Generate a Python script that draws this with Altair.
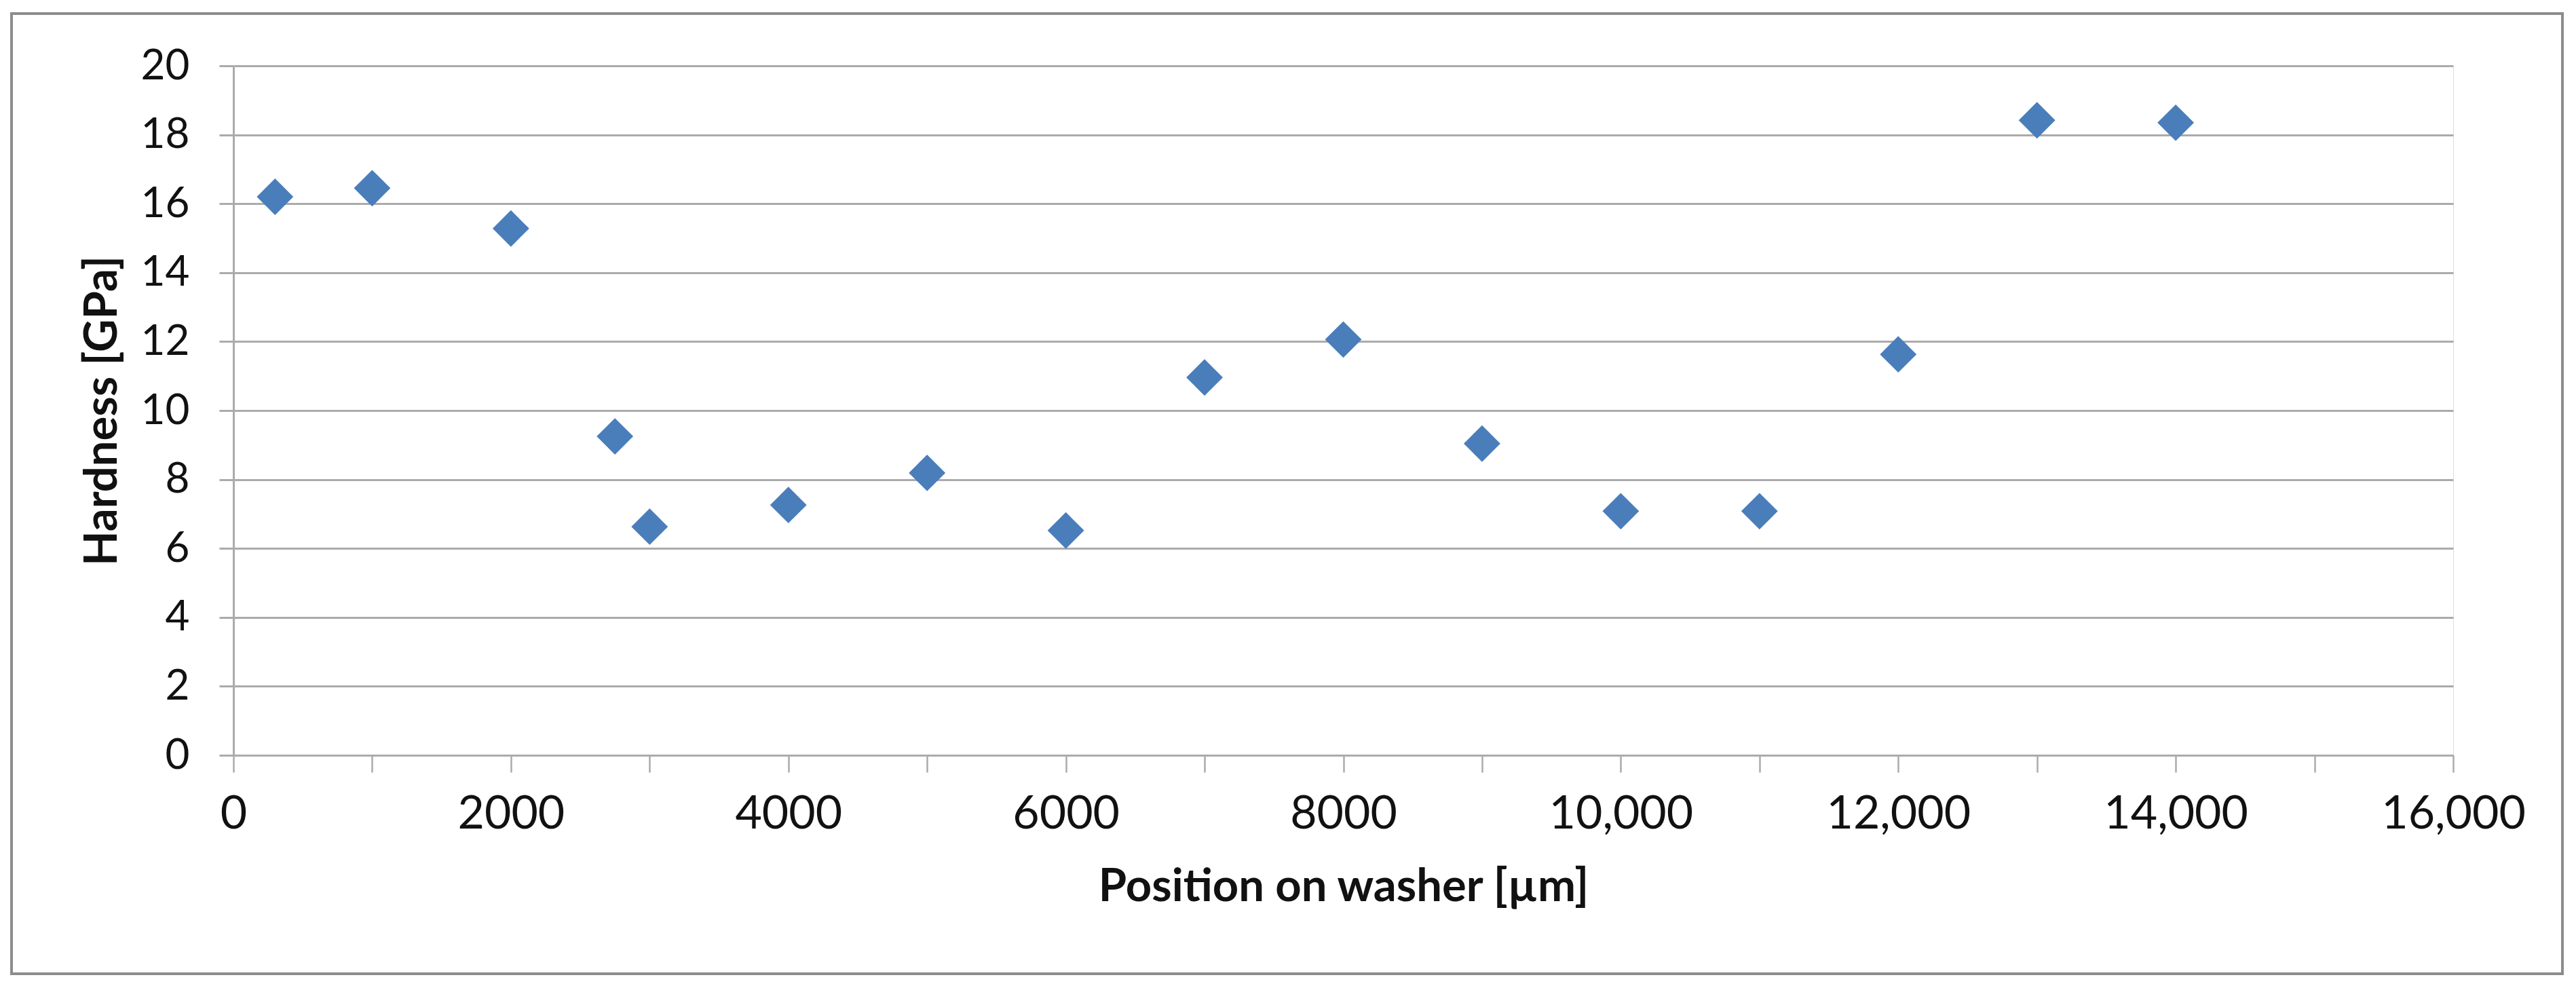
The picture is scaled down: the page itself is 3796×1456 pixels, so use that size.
import altair as alt
import pandas as pd

# Data
positions = [300, 1000, 2000, 2750, 3000, 4000, 5000, 6000, 7000, 8000,
             9000, 10000, 11000, 12000, 13000, 14000]
hardness = [16.2, 16.45, 15.28, 9.25, 6.63, 7.26, 8.19, 6.52, 10.96, 12.06,
            9.04, 7.08, 7.08, 11.63, 18.42, 18.35]

x_ticks = list(range(0, 16001, 1000))
y_ticks = list(range(0, 21, 2))

df = pd.DataFrame({"position": positions, "hardness": hardness})

FONT = "Lato"
GRID = "#ABABAB"

points = alt.Chart(df).mark_point(
    shape="diamond", filled=True, size=2900, color="#4A7EBB", opacity=1
).encode(
    x=alt.X(
        "position:Q",
        scale=alt.Scale(domain=[0, 16000], nice=False, zero=False),
        axis=alt.Axis(
            values=x_ticks,
            labelExpr="datum.value % 2000 == 0 ? (datum.value >= 10000 ? format(datum.value, ',') : format(datum.value, 'd')) : ''",
            title="Position on washer [µm]",
            grid=False,
            domainColor=GRID, domainWidth=3,
            tickColor=GRID, tickWidth=2.5, tickSize=25,
            labelFont=FONT, labelFontSize=68, labelColor="#111111",
            labelPadding=28, labelFlush=False, labelOverlap=False,
            labelLimit=1000,
            titleFont=FONT, titleFontSize=67, titleFontWeight="bold",
            titleColor="#111111", titlePadding=40, titleLimit=3000,
        ),
    ),
    y=alt.Y(
        "hardness:Q",
        scale=alt.Scale(domain=[0, 20], nice=False),
        axis=alt.Axis(
            values=y_ticks,
            title="Hardness [GPa]",
            grid=True, gridColor=GRID, gridWidth=3,
            domainColor=GRID, domainWidth=3,
            tickColor=GRID, tickWidth=3, tickSize=21,
            labelFont=FONT, labelFontSize=62, labelColor="#111111",
            labelPadding=44, labelFlush=False, labelOverlap=False,
            labelLimit=1000,
            titleFont=FONT, titleFontSize=67, titleFontWeight="bold",
            titleColor="#111111", titlePadding=22, titleLimit=3000,
        ),
    ),
)

frame = alt.Chart(pd.DataFrame({"k": [0]})).mark_rect(
    fillOpacity=0, stroke="#8C8C8C", strokeWidth=4
).encode(
    x=alt.value(-327), x2=alt.value(3432),
    y=alt.value(-77), y2=alt.value(1338),
)

chart = alt.layer(frame, points).properties(
    width=3271, height=1016,
    autosize=alt.AutoSizeParams(type="none"),
    padding={"left": 336, "top": 89, "right": 170, "bottom": 330},
).configure_view(stroke=None).configure(background="white")

chart.save("out.html", embed_options={"renderer": "svg", "actions": False})
